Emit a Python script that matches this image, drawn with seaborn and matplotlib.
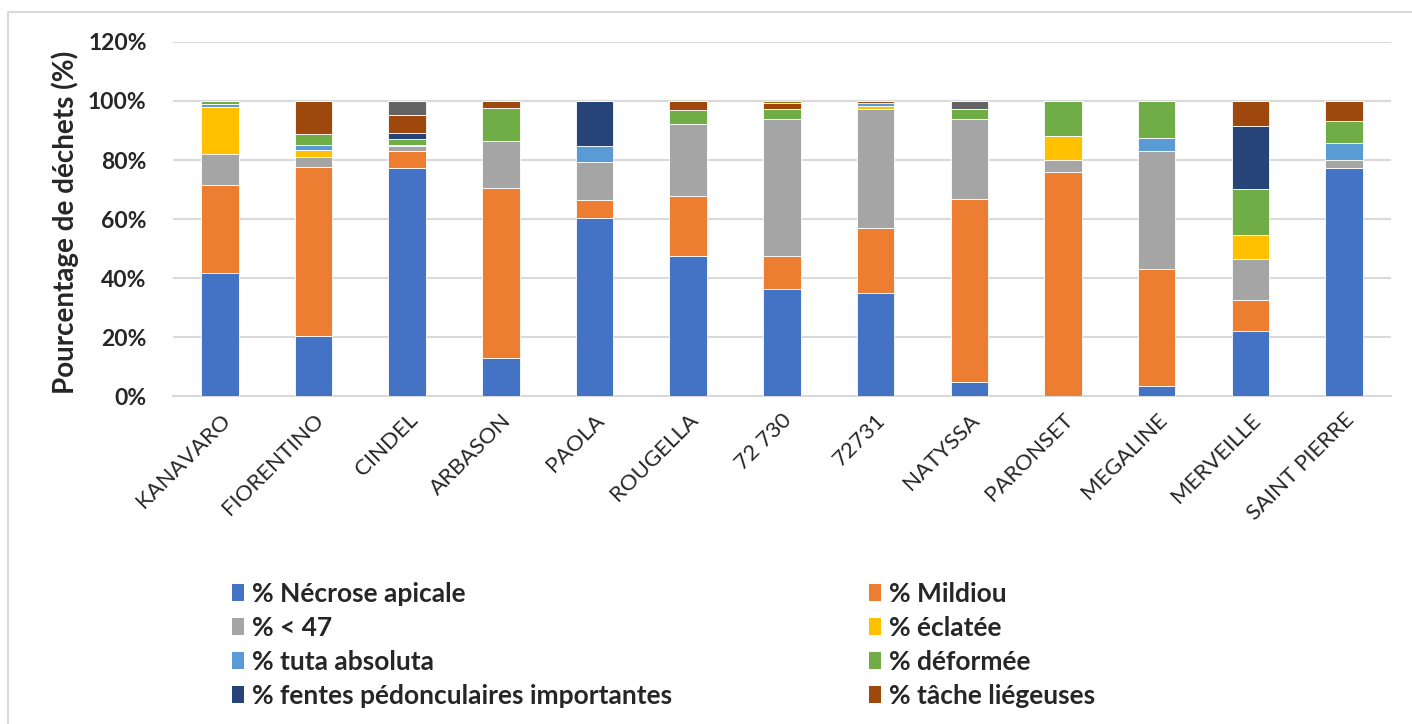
import numpy as np
import pandas as pd
import matplotlib
matplotlib.use('Agg')
import matplotlib.pyplot as plt
import seaborn as sns
from matplotlib.patches import Patch
from matplotlib.lines import Line2D

# varieties on the x axis
varietes = ['KANAVARO', 'FIORENTINO', 'CINDEL', 'ARBASON', 'PAOLA', 'ROUGELLA',
            '72 730', '72731', 'NATYSSA', 'PARONSET', 'MEGALINE', 'MERVEILLE',
            'SAINT PIERRE']

# share of each defect (%), stacked bottom to top
necrose = [41.6, 20.5, 77.3, 12.9, 60.3, 47.5, 36.2, 35.0, 4.6, 0.0, 3.4, 21.9, 77.3]
mildiou = [29.8, 57.1, 5.7, 57.7, 6.1, 20.4, 11.3, 22.0, 62.1, 75.9, 39.7, 10.6, 0.0]
moins47 = [10.8, 3.4, 1.6, 15.7, 12.8, 24.4, 46.4, 40.3, 27.1, 4.1, 40.0, 14.0, 2.7]
eclatee = [15.7, 2.3, 0.0, 0.0, 0.0, 0.0, 0.0, 0.9, 0.0, 8.3, 0.0, 8.1, 0.0]
tuta = [1.2, 1.7, 0.6, 0.0, 5.5, 0.0, 0.0, 1.1, 0.0, 0.0, 4.5, 0.0, 5.6]
deformee = [0.9, 3.9, 2.0, 11.3, 0.0, 4.8, 3.4, 0.0, 3.6, 11.7, 12.4, 15.5, 7.7]
fentes = [0.0, 0.0, 1.9, 0.0, 15.3, 0.0, 0.0, 0.0, 0.0, 0.0, 0.0, 21.5, 0.0]
tache = [0.0, 11.1, 6.1, 2.4, 0.0, 2.9, 2.0, 0.7, 0.0, 0.0, 0.0, 8.4, 6.7]
# series without legend entry (cut off in the original legend)
autre1 = [0.0, 0.0, 4.8, 0.0, 0.0, 0.0, 0.0, 0.0, 2.6, 0.0, 0.0, 0.0, 0.0]
autre2 = [0.0, 0.0, 0.0, 0.0, 0.0, 0.0, 0.7, 0.0, 0.0, 0.0, 0.0, 0.0, 0.0]

series = [
    ('% Nécrose apicale', necrose, '#4472C4'),
    ('% Mildiou', mildiou, '#ED7D31'),
    ('% < 47', moins47, '#A5A5A5'),
    ('% éclatée', eclatee, '#FFC000'),
    ('% tuta absoluta', tuta, '#5B9BD5'),
    ('% déformée', deformee, '#70AD47'),
    ('% fentes pédonculaires importantes', fentes, '#264478'),
    ('% tâche liégeuses', tache, '#9E480E'),
    ('', autre1, '#636363'),
    ('', autre2, '#997300'),
]

sns.set_style('white')
plt.rcParams['font.family'] = ['Lato', 'DejaVu Sans']

fig = plt.figure(figsize=(14.12, 7.24), dpi=100)
ax = fig.add_axes([0.1225, 0.453, 0.8625, 0.489])

bottom = np.zeros(len(varietes))
for name, vals, col in series:
    vals = np.array(vals) / 100.0
    df = pd.DataFrame({'variete': varietes, 'val': vals})
    sns.barplot(data=df, x='variete', y='val', bottom=bottom, color=col,
                saturation=1, width=0.4, errorbar=None, edgecolor='white',
                linewidth=0.6, ax=ax, zorder=3)
    bottom = bottom + vals

ax.set_xlim(-0.5, len(varietes) - 0.5)
ax.set_ylim(0, 1.2)
ax.set_yticks(np.arange(0, 1.21, 0.2))
ax.set_yticklabels([f'{int(round(t * 100))}%' for t in np.arange(0, 1.21, 0.2)],
                   fontsize=16.5, fontweight='bold')
ax.yaxis.grid(True, color='#D9D9D9', linewidth=1.5, zorder=0)
ax.tick_params(axis='y', length=0, pad=19)
ax.tick_params(axis='x', length=0, pad=10)
for s in ['top', 'right', 'left']:
    ax.spines[s].set_visible(False)
ax.spines['bottom'].set_color('#D9D9D9')
ax.spines['bottom'].set_linewidth(1.5)

ax.set_xlabel('')
ax.set_ylabel('Pourcentage de déchets (%)', fontsize=20, fontweight='bold')
ax.yaxis.set_label_coords(-0.077, 0.49)
plt.setp(ax.get_xticklabels(), rotation=45, ha='right', rotation_mode='anchor', fontsize=16)

# legend in two columns, placed like the original
left_col = [series[0], series[2], series[4], series[6]]
right_col = [series[1], series[3], series[5], series[7]]
for cols, xpos in [(left_col, 0.155), (right_col, 0.606)]:
    handles = [Patch(facecolor=c, edgecolor='none') for _, _, c in cols]
    labels = [n for n, _, _ in cols]
    fig.legend(handles, labels, loc='upper left', bbox_to_anchor=(xpos, 0.215),
               frameon=False, prop={'size': 19, 'weight': 'bold'},
               handlelength=0.45, handleheight=0.6, handletextpad=0.3,
               labelspacing=0.38, borderpad=0)

# outer chart border
fig.add_artist(Line2D([8 / 1412, 8 / 1412, 1.0], [0.0, 1 - 12 / 724, 1 - 12 / 724],
                      transform=fig.transFigure, color='#D9D9D9', linewidth=1.5))

fig.savefig('out.png', dpi=100, facecolor='white')
